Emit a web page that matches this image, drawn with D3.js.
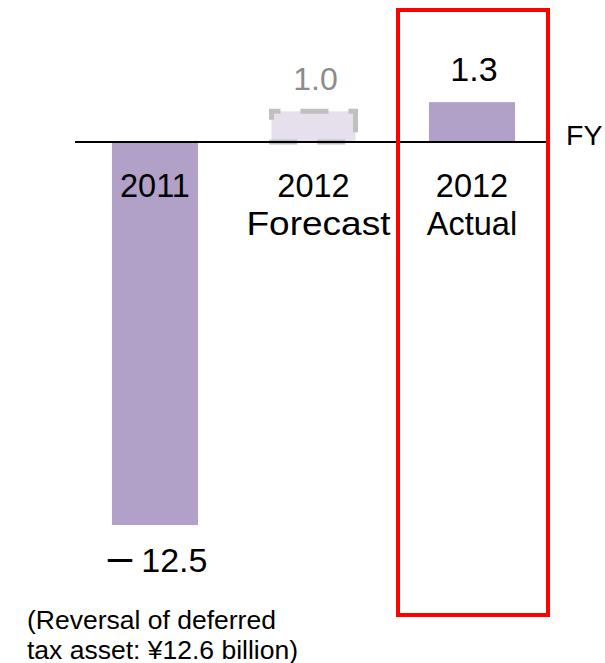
<!DOCTYPE html>
<html>
<head>
<meta charset="utf-8">
<script src="https://cdn.jsdelivr.net/npm/d3@7"></script>
<style>
  html, body { margin: 0; padding: 0; background: #fff; }
  svg { display: block; font-family: Arial, "Liberation Sans", sans-serif; }
</style>
</head>
<body>
<svg id="chart" width="605" height="663"></svg>
<script>
// Net income by fiscal year (¥ billion)
const categories = ["2011", "2012F", "2012A"];
const categoryLines = [["2011"], ["2012", "Forecast"], ["2012", "Actual"]];
const values = [-12.5, 1.0, 1.3];
const valueLabels = ["12.5", "1.0", "1.3"];
const isForecast = [false, true, false];
const noteLines = ["(Reversal of deferred", "tax asset: \u00a512.6 billion)"];
const axisTitle = "FY";

const svg = d3.select("#chart");

const x = d3.scaleBand()
  .domain(categories)
  .range([75.75, 551.25])
  .paddingInner(0.457)
  .paddingOuter(0.2285);

const y = d3.scaleLinear()
  .domain([-12.5, 1.3])
  .range([525, 142 - 1.3 * (383 / 12.5)]);

const zero = y(0);
const center = c => x(c) + x.bandwidth() / 2;

// Bars
values.forEach((v, i) => {
  const c = categories[i];
  const top = Math.min(y(v), zero);
  const h = Math.abs(y(v) - zero);
  if (isForecast[i]) {
    svg.append("rect")
      .attr("x", x(c) + 1)
      .attr("y", top)
      .attr("width", x.bandwidth() - 2)
      .attr("height", h)
      .attr("fill", "#e6e0ec")
      .attr("stroke", "#c0c0c0")
      .attr("stroke-width", 5)
      .attr("stroke-dasharray", "28 20")
      .attr("stroke-dashoffset", 19);
  } else {
    svg.append("rect")
      .attr("x", x(c))
      .attr("y", top)
      .attr("width", x.bandwidth())
      .attr("height", h)
      .attr("fill", "#b1a0c7");
  }
});

// Zero axis
svg.append("line")
  .attr("x1", 75).attr("x2", 548)
  .attr("y1", zero).attr("y2", zero)
  .attr("stroke", "#000")
  .attr("stroke-width", 2);

// Axis title
svg.append("text")
  .attr("x", 566).attr("y", zero + 3)
  .attr("font-size", 28.5)
  .attr("fill", "#000")
  .text(axisTitle);

// Category labels
categoryLines.forEach((lines, i) => {
  const cx = center(categories[i]);
  const t = svg.append("text")
    .attr("text-anchor", "middle")
    .attr("font-size", 32.5)
    .attr("fill", "#000");
  lines.forEach((ln, j) => {
    const s = t.append("tspan")
      .attr("x", ln === "Forecast" ? cx + 5 : cx)
      .attr("y", zero + 55 + j * 38)
      .text(ln);
    if (ln === "Forecast") {
      s.attr("textLength", 144).attr("lengthAdjust", "spacingAndGlyphs");
    }
  });
});

// Value labels (negative values get a long dash as the sign)
values.forEach((v, i) => {
  const cx = center(categories[i]);
  const yy = v >= 0 ? y(v) - 21.5 : y(v) + 47;
  const t = svg.append("text")
    .attr("x", v < 0 ? cx + 2.6 : cx + 2)
    .attr("y", yy)
    .attr("text-anchor", "middle")
    .attr("font-size", isForecast[i] ? 32 : 34)
    .attr("fill", isForecast[i] ? "#8c8c8c" : "#000");
  if (v < 0) {
    t.append("tspan").attr("font-size", 44).text("\u2013");
    t.append("tspan").attr("dx", 9).text(valueLabels[i]);
  } else {
    t.text(valueLabels[i]);
  }
});

// Note under the 2011 bar
const note = svg.append("text")
  .attr("font-size", 26.5)
  .attr("fill", "#000");
noteLines.forEach((ln, j) => {
  note.append("tspan")
    .attr("x", 27)
    .attr("y", 629 + j * 29.5)
    .text(ln);
});

// Highlight frame around the actual result
svg.append("rect")
  .attr("x", 398)
  .attr("y", 10)
  .attr("width", 150)
  .attr("height", 605)
  .attr("fill", "none")
  .attr("stroke", "#ff0000")
  .attr("stroke-width", 4);
</script>
</body>
</html>
